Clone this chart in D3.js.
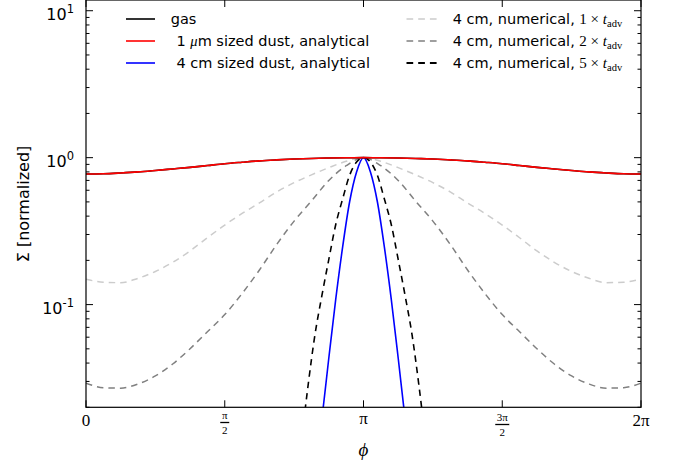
<!DOCTYPE html>
<html>
<head>
<meta charset="utf-8">
<script src="https://cdn.jsdelivr.net/npm/d3@7"></script>
<style>
  html, body { margin: 0; padding: 0; background: #fff; }
  svg { display: block; }
</style>
</head>
<body>
<svg id="chart" width="680" height="468"></svg>
<script>
// ---------- data (φ in units of π) ----------
const phiWide = [0,0.0625,0.125,0.1875,0.25,0.3125,0.375,0.4375,0.5,0.5625,0.625,0.6875,0.75,0.8125,0.875,0.9375,1,
                 1.0625,1.125,1.1875,1.25,1.3125,1.375,1.4375,1.5,1.5625,1.625,1.6875,1.75,1.8125,1.875,1.9375,2];
const gasValues  = [0.774,0.777,0.787,0.800,0.818,0.838,0.859,0.884,0.910,0.931,0.951,0.966,0.979,0.988,0.995,0.999,1.0,
                    0.999,0.995,0.988,0.979,0.966,0.951,0.931,0.910,0.884,0.859,0.838,0.818,0.800,0.787,0.777,0.774];
const dust1umValues = [0.774,0.777,0.787,0.800,0.818,0.838,0.859,0.884,0.910,0.931,0.951,0.966,0.979,0.988,0.995,0.999,1.0,
                    0.999,0.995,0.988,0.979,0.966,0.951,0.931,0.910,0.884,0.859,0.838,0.818,0.800,0.787,0.777,0.774];
const num1xValues = [0.149,0.142,0.141,0.151,0.168,0.194,0.232,0.285,0.348,0.417,0.492,0.585,0.676,0.764,0.855,0.944,1.0,
                     0.944,0.855,0.764,0.676,0.585,0.492,0.417,0.348,0.285,0.232,0.194,0.168,0.151,0.141,0.142,0.149];
const num2xValues = [0.0292,0.0272,0.0270,0.0288,0.0327,0.0394,0.0501,0.0653,0.0855,0.119,0.172,0.257,0.370,0.507,0.700,0.881,1.0,
                     0.881,0.700,0.507,0.370,0.257,0.172,0.119,0.0855,0.0653,0.0501,0.0394,0.0327,0.0288,0.0270,0.0272,0.0292];

const phiNarrow = [0.75,0.775,0.8,0.825,0.85,0.875,0.9,0.925,0.95,0.975,1,1.025,1.05,1.075,1.1,1.125,1.15,1.175,1.2,1.225,1.25];
const num5xValues = [0.0045,0.0112,0.0279,0.0622,0.115,0.203,0.351,0.525,0.759,0.933,1.0,
                     0.933,0.759,0.525,0.351,0.203,0.115,0.0622,0.0279,0.0112,0.0045];
const dust4cmValues = [0.0006,0.0014,0.0032,0.0072,0.0166,0.0433,0.109,0.248,0.501,0.80,1.0,
                       0.80,0.501,0.248,0.109,0.0433,0.0166,0.0072,0.0032,0.0014,0.0006];

const xTickFracs = [0, 0.5, 1, 1.5, 2];
const yMajorTicks = [0.1, 1, 10];
const yTickExps = ["-1", "0", "1"];

const seriesLabels = ["gas", "1 μm sized dust, analytical", "4 cm sized dust, analytical",
                      "4 cm, numerical, ", "4 cm, numerical, ", "4 cm, numerical, "];
const numFactors = ["1", "2", "5"];

// ---------- layout ----------
const svg = d3.select("#chart");
const L = 86, R = 641, B = 407.3, T = 0;
const PI = Math.PI;
const x = d3.scaleLinear().domain([0, 2 * PI]).range([L, R]);
const y = d3.scaleLog().domain([0.02, 11.83]).range([B, T]);

svg.append("defs").append("clipPath").attr("id", "clip")
  .append("rect").attr("x", L).attr("y", T).attr("width", R - L).attr("height", B - T);

const plot = svg.append("g").attr("clip-path", "url(#clip)");
const line = d3.line().x(d => x(d[0] * PI)).y(d => y(d[1])).curve(d3.curveMonotoneX);

function draw(phis, vals, color, width, dash) {
  const p = plot.append("path")
    .datum(phis.map((f, i) => [f, vals[i]]))
    .attr("d", line)
    .attr("fill", "none")
    .attr("stroke", color)
    .attr("stroke-width", width);
  if (dash) p.attr("stroke-dasharray", dash);
}
const dash = "6.5,5";
draw(phiWide, num1xValues, "#cccccc", 1.5, dash);
draw(phiWide, num2xValues, "#808080", 1.5, dash);
draw(phiNarrow, num5xValues, "#000000", 1.6, dash);
draw(phiNarrow, dust4cmValues, "#0000ff", 1.6, null);
draw(phiWide, gasValues, "#000000", 1.6, null);
draw(phiWide, dust1umValues, "#ff0000", 1.6, null);

// ---------- frame & ticks ----------
const axes = svg.append("g").attr("stroke", "#000").attr("fill", "none");
axes.append("rect").attr("x", L).attr("y", T).attr("width", R - L).attr("height", B - T)
  .attr("stroke-width", 1.2);

xTickFracs.forEach(f => {
  const xx = x(f * PI);
  axes.append("line").attr("x1", xx).attr("x2", xx).attr("y1", B).attr("y2", B - 7).attr("stroke-width", 1);
  axes.append("line").attr("x1", xx).attr("x2", xx).attr("y1", T).attr("y2", T + 7).attr("stroke-width", 1);
});
const minor = [];
[0.01, 0.1, 1].forEach(dec => { for (let k = 2; k <= 9; k++) minor.push(dec * k); });
minor.filter(v => v >= 0.02 && v <= 11.83).forEach(v => {
  const yy = y(v);
  axes.append("line").attr("x1", L).attr("x2", L + 3.5).attr("y1", yy).attr("y2", yy).attr("stroke-width", 1);
  axes.append("line").attr("x1", R).attr("x2", R - 3.5).attr("y1", yy).attr("y2", yy).attr("stroke-width", 1);
});
yMajorTicks.forEach(v => {
  const yy = y(v);
  axes.append("line").attr("x1", L).attr("x2", L + 7).attr("y1", yy).attr("y2", yy).attr("stroke-width", 1);
  axes.append("line").attr("x1", R).attr("x2", R - 7).attr("y1", yy).attr("y2", yy).attr("stroke-width", 1);
});

const sans = "'DejaVu Sans', sans-serif";
const serif = "'Liberation Serif', 'DejaVu Serif', serif";
yMajorTicks.forEach((v, i) => {
  const t = svg.append("text")
    .attr("x", 74).attr("y", y(v) + 9)
    .attr("text-anchor", "end")
    .attr("font-family", sans).attr("font-size", 16).attr("fill", "#000");
  t.append("tspan").text("10");
  t.append("tspan").attr("dy", -7).attr("font-size", 11.5).text(yTickExps[i]);
});

function xLabel(f) { return x(f * PI); }
svg.append("text").attr("x", xLabel(0)).attr("y", 426).attr("text-anchor", "middle")
  .attr("font-family", serif).attr("font-size", 17).text("0");
svg.append("text").attr("x", xLabel(1)).attr("y", 424).attr("text-anchor", "middle")
  .attr("font-family", serif).attr("font-size", 17).text("π");
svg.append("text").attr("x", xLabel(2)).attr("y", 426).attr("text-anchor", "middle")
  .attr("font-family", serif).attr("font-size", 17).text("2π");
function frac(f, num, barY) {
  const cx = xLabel(f);
  svg.append("text").attr("x", cx).attr("y", barY - 4).attr("text-anchor", "middle")
    .attr("font-family", serif).attr("font-size", 11).text(num);
  svg.append("line").attr("x1", cx - (num.length > 1 ? 7 : 4.5)).attr("x2", cx + (num.length > 1 ? 7 : 4.5))
    .attr("y1", barY).attr("y2", barY).attr("stroke", "#000").attr("stroke-width", 1.3);
  svg.append("text").attr("x", cx).attr("y", barY + 11).attr("text-anchor", "middle")
    .attr("font-family", serif).attr("font-size", 11).text("2");
}
frac(0.5, "π", 422.5);
frac(1.5, "3π", 424.5);

svg.append("text").attr("x", x(PI)).attr("y", 456).attr("text-anchor", "middle")
  .attr("font-family", serif).attr("font-style", "italic").attr("font-size", 19).text("ϕ");
svg.append("text").attr("transform", "translate(29,204) rotate(-90)").attr("text-anchor", "middle")
  .attr("font-family", sans).attr("font-size", 16).text("Σ [normalized]");

// ---------- legend ----------
const rowsY = [19, 41, 63];
const leftCol = [
  { color: "#000000" }, { color: "#ff0000" }, { color: "#0000ff" }
];
const rightCol = [
  { color: "#cccccc" }, { color: "#808080" }, { color: "#000000" }
];
leftCol.forEach((s, i) => {
  svg.append("line").attr("x1", 126).attr("x2", 155).attr("y1", rowsY[i]).attr("y2", rowsY[i])
    .attr("stroke", s.color).attr("stroke-width", 1.6);
});
rightCol.forEach((s, i) => {
  svg.append("line").attr("x1", 406.5).attr("x2", 437).attr("y1", rowsY[i]).attr("y2", rowsY[i])
    .attr("stroke", s.color).attr("stroke-width", i === 2 ? 1.8 : 1.5).attr("stroke-dasharray", "6.7,5");
});
svg.append("text").attr("x", 170.7).attr("y", rowsY[0] + 5).attr("font-family", sans).attr("font-size", 14.5).text(seriesLabels[0]);
{
  const t = svg.append("text").attr("x", 176.5).attr("y", rowsY[1] + 5).attr("font-family", sans).attr("font-size", 14.5);
  t.append("tspan").text("1 ");
  t.append("tspan").attr("font-family", serif).attr("font-style", "italic").text("μ");
  t.append("tspan").text("m sized dust, analytical");
}
svg.append("text").attr("x", 176.5).attr("y", rowsY[2] + 5).attr("font-family", sans).attr("font-size", 14.5).text(seriesLabels[2]);
rowsY.forEach((ry, i) => {
  const t = svg.append("text").attr("x", 452.7).attr("y", ry + 5).attr("font-family", sans).attr("font-size", 14.5)
    .attr("xml:space", "preserve");
  t.append("tspan").text(seriesLabels[3 + i]);
  t.append("tspan").attr("font-family", serif).attr("font-size", 15).text(numFactors[i] + " × ");
  t.append("tspan").attr("font-family", serif).attr("font-style", "italic").attr("font-size", 15).text("t");
  t.append("tspan").attr("font-family", serif).attr("font-size", 10.5).attr("dy", 3).text("adv");
});
</script>
</body>
</html>
